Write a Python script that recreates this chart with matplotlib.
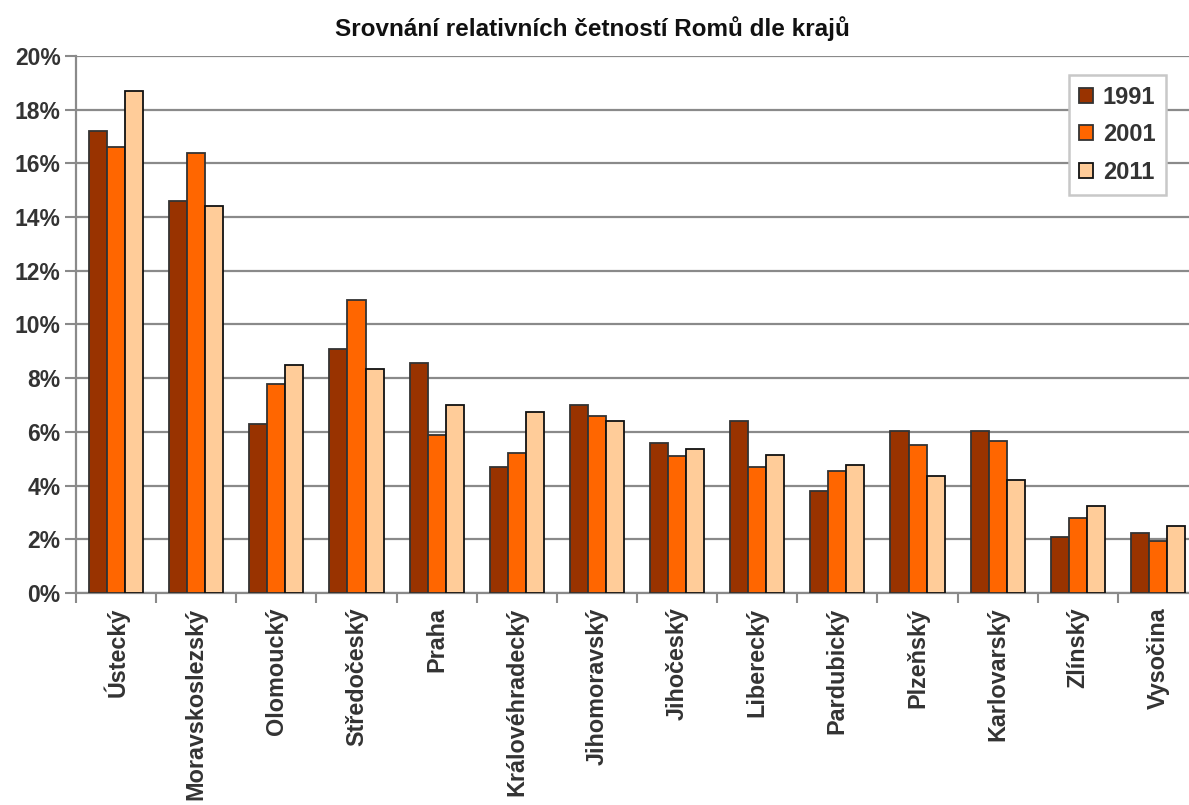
import numpy as np
import matplotlib.pyplot as plt
from matplotlib.ticker import FuncFormatter

plt.rcParams['font.family'] = ['Liberation Sans', 'DejaVu Sans']

# kraje a relativní četnosti Romů (%)
kraje = ['Ústecký', 'Moravskoslezský', 'Olomoucký', 'Středočeský', 'Praha',
         'Královéhradecký', 'Jihomoravský', 'Jihočeský', 'Liberecký',
         'Pardubický', 'Plzeňský', 'Karlovarský', 'Zlínský', 'Vysočina']
roky = ['1991', '2001', '2011']
r1991 = [17.2, 14.6, 6.3, 9.1, 8.55, 4.7, 7.0, 5.6, 6.4, 3.8, 6.05, 6.05, 2.1, 2.25]
r2001 = [16.6, 16.4, 7.8, 10.9, 5.9, 5.2, 6.6, 5.1, 4.7, 4.55, 5.5, 5.65, 2.8, 1.95]
r2011 = [18.7, 14.4, 8.5, 8.35, 7.0, 6.75, 6.4, 5.35, 5.15, 4.75, 4.35, 4.2, 3.25, 2.5]
barvy = ['#993300', '#FF6600', '#FFCC99']
okraje = ['#333333', '#333333', '#111111']

fig = plt.figure(figsize=(11.89, 8.05), dpi=100)
ax = fig.add_axes([0.0639, 0.2634, 0.9437, 0.667])

x = np.arange(len(kraje))
w = 0.225
for i, (vals, c, e, rok) in enumerate(zip([r1991, r2001, r2011], barvy, okraje, roky)):
    ax.bar(x + (i - 1) * w, vals, width=w, color=c, edgecolor=e,
           linewidth=1.3, label=rok, zorder=3)

ax.set_xlim(-0.5, len(kraje) - 0.5)
ax.set_ylim(0, 20)
ax.set_yticks(range(0, 21, 2))
ax.yaxis.set_major_formatter(FuncFormatter(lambda v, p: f'{v:.0f}%'))
ax.grid(axis='y', color='#8a8a8a', linewidth=1.6, zorder=0)

ax.set_xticks(x)
ax.set_xticklabels(kraje, rotation=90, fontsize=16.8, fontweight='bold', color='#333333')
ax.set_xticks(np.arange(-0.5, len(kraje)), minor=True)
ax.tick_params(axis='x', which='major', length=0, pad=10.5)
ax.tick_params(axis='x', which='minor', length=7, color='#8a8a8a', width=1.5)
ax.tick_params(axis='y', labelsize=16.5, length=8, color='#8a8a8a', width=1.5, pad=3)
for t in ax.get_yticklabels():
    t.set_fontweight('bold')
    t.set_color('#333333')

for s in ['top', 'right']:
    ax.spines[s].set_visible(False)
for s in ['left', 'bottom']:
    ax.spines[s].set_color('#8a8a8a')
    ax.spines[s].set_linewidth(1.6)

fig.text(0.498, 0.964, 'Srovnání relativních četností Romů dle krajů', fontsize=17.5,
         fontweight='bold', ha='center', va='center', color='#111111')

leg = ax.legend(loc='upper right', bbox_to_anchor=(0.9807, 0.9068),
                bbox_transform=fig.transFigure,
                prop={'weight': 'bold', 'size': 17}, frameon=True, fancybox=False,
                handlelength=0.6, handleheight=0.6, labelspacing=0.62,
                borderpad=0.45, handletextpad=0.4, borderaxespad=0)
leg.get_frame().set_edgecolor('#c8c8c8')
leg.get_frame().set_linewidth(1.8)
leg.get_frame().set_alpha(1)
for t in leg.get_texts():
    t.set_color('#333333')

fig.savefig('out.png', dpi=100)
